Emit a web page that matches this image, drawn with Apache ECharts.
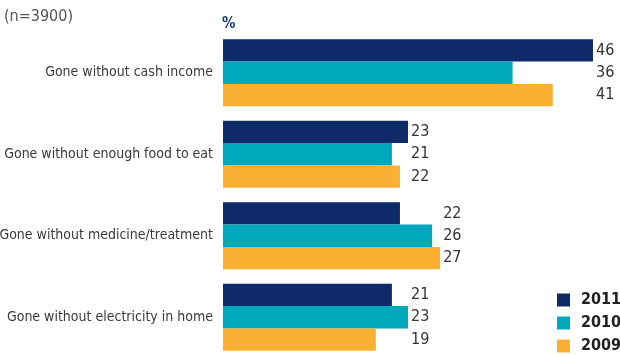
<!DOCTYPE html>
<html>
<head>
<meta charset="utf-8">
<script src="https://cdn.jsdelivr.net/npm/echarts@6/dist/echarts.min.js"></script>
<style>
  html, body { margin: 0; padding: 0; background: #fff; }
  #chart { width: 620px; height: 355px; }
</style>
</head>
<body>
<div id="chart"></div>
<script>
// Share of respondents (%) who went without basic needs, by survey year
const categories = [
  'Gone without cash income',
  'Gone without enough food to eat',
  'Gone without medicine/treatment',
  'Gone without electricity in home'
];
const years = ['2011', '2010', '2009'];
const values2011 = [46, 23, 22, 21];
const values2010 = [36, 21, 26, 23];
const values2009 = [41, 22, 27, 19];

const colors = ['#0f2a69', '#00a8bb', '#fbb034'];
const FONT = '"DejaVu Sans Condensed", "Liberation Sans Narrow", "Roboto", sans-serif';

const GRID_LEFT = 223, GRID_TOP = 32, GRID_W = 370, GRID_H = 326;
const X_MAX = 46;
const pxPerUnit = GRID_W / X_MAX;

const seriesValues = [values2011, values2010, values2009];
// Value labels in each group line up just past the group's longest bar
const groupMax = categories.map((_, i) => Math.max(...seriesValues.map(s => s[i])));

const chart = echarts.init(document.getElementById('chart'), null, { renderer: 'canvas' });

chart.setOption({
  animation: false,
  backgroundColor: '#fff',
  grid: {
    left: GRID_LEFT, top: GRID_TOP, width: GRID_W, height: GRID_H,
    containLabel: false, outerBoundsMode: 'none'
  },
  title: [
    { text: '(n=3900)', left: 4, top: 9, padding: 0,
      textStyle: { fontFamily: FONT, fontSize: 16, fontWeight: 'normal', color: '#555' } },
    { text: '%', left: 222, top: 17, padding: 0,
      textStyle: { fontFamily: FONT, fontSize: 15, fontWeight: 'bold', color: '#1f3f7a' } }
  ],
  legend: {
    orient: 'vertical', left: 557, top: 292, padding: 0,
    itemWidth: 13, itemHeight: 13, itemGap: 7,
    icon: 'rect',
    textStyle: { fontFamily: FONT, fontSize: 16, fontWeight: 'bold', color: '#222', padding: [0, 0, 0, 6] },
    data: years
  },
  xAxis: {
    type: 'value', min: 0, max: X_MAX,
    show: false, splitLine: { show: false }
  },
  yAxis: {
    type: 'category', inverse: true, data: categories,
    axisLine: { show: false }, axisTick: { show: false },
    axisLabel: { fontFamily: FONT, fontSize: 14, color: '#3a3a3a', margin: 10 }
  },
  series: years.map((y, si) => ({
    name: y,
    type: 'bar',
    barWidth: 22.4,
    barGap: '0%',
    barCategoryGap: '18%',
    itemStyle: { color: colors[si] },
    data: seriesValues[si].map((v, ci) => ({
      value: v,
      label: {
        show: true,
        position: 'right',
        distance: 3,
        offset: [(groupMax[ci] - v) * pxPerUnit, 0],
        fontFamily: FONT, fontSize: 16, color: '#333'
      }
    }))
  }))
});
</script>
</body>
</html>
